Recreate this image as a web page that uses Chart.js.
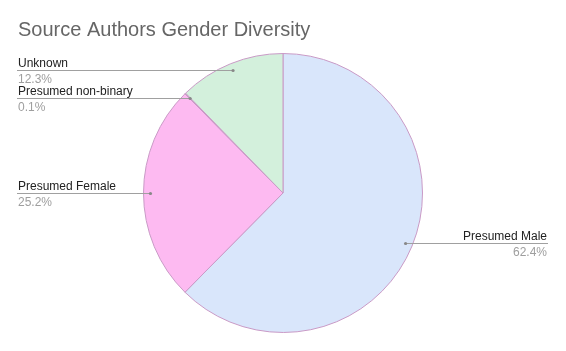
<!DOCTYPE html>
<html>
<head>
<meta charset="utf-8">
<script src="https://cdn.jsdelivr.net/npm/chart.js@4/dist/chart.umd.min.js"></script>
<style>
html,body{margin:0;padding:0;background:#fff;}
#c{display:block;}
</style>
</head>
<body>
<canvas id="c" width="566" height="351"></canvas>
<script>
const title = "Source Authors Gender Diversity";
const categories = ["Presumed Male", "Presumed Female", "Presumed non-binary", "Unknown"];
const values = [62.4, 25.2, 0.1, 12.3];
const valueLabels = ["62.4%", "25.2%", "0.1%", "12.3%"];
const colors = ["#d9e6fb", "#fdbaf1", "#c9a0c9", "#d3f0dc"];

const labelPlugin = {
  id: 'sideLabels',
  afterDraw(chart) {
    const ctx = chart.ctx;
    ctx.save();
    // title
    ctx.font = '20px "Liberation Sans", Arial, sans-serif';
    ctx.fillStyle = '#666666';
    ctx.textAlign = 'left';
    ctx.textBaseline = 'alphabetic';
    ctx.fillText(title, 18, 36);

    const meta = chart.getDatasetMeta(0);
    meta.data.forEach((arc, i) => {
      const p = arc.getProps(['x', 'y', 'startAngle', 'endAngle', 'outerRadius'], true);
      const mid = (p.startAngle + p.endAngle) / 2;
      const r = p.outerRadius * 0.95;
      const ax = p.x + Math.cos(mid) * r;
      const ay = p.y + Math.sin(mid) * r;
      const left = ax < p.x;
      const lx = left ? 17 : 548;
      const ly = Math.round(ay) + 0.5;
      ctx.strokeStyle = '#a0a0a0';
      ctx.lineWidth = 1;
      ctx.beginPath();
      ctx.moveTo(lx, ly);
      ctx.lineTo(ax, ly);
      ctx.stroke();
      ctx.fillStyle = '#888888';
      ctx.beginPath();
      ctx.arc(ax, ly, 1.6, 0, Math.PI * 2);
      ctx.fill();
      ctx.font = '12px "Liberation Sans", Arial, sans-serif';
      ctx.textAlign = left ? 'left' : 'right';
      const tx = left ? 18 : 547;
      ctx.fillStyle = '#222222';
      ctx.fillText(categories[i], tx, ly - 3.5);
      ctx.fillStyle = '#9e9e9e';
      ctx.fillText(valueLabels[i], tx, ly + 12.5);
    });
    ctx.restore();
  }
};

new Chart(document.getElementById('c'), {
  type: 'pie',
  data: {
    labels: categories,
    datasets: [{
      data: values,
      backgroundColor: colors,
      borderColor: '#c99ac6',
      borderWidth: 1
    }]
  },
  options: {
    responsive: false,
    animation: false,
    devicePixelRatio: 1,
    layout: { padding: { left: 143, right: 143, top: 53, bottom: 18 } },
    plugins: {
      legend: { display: false },
      tooltip: { enabled: false },
      title: { display: false }
    }
  },
  plugins: [labelPlugin]
});
</script>
</body>
</html>
